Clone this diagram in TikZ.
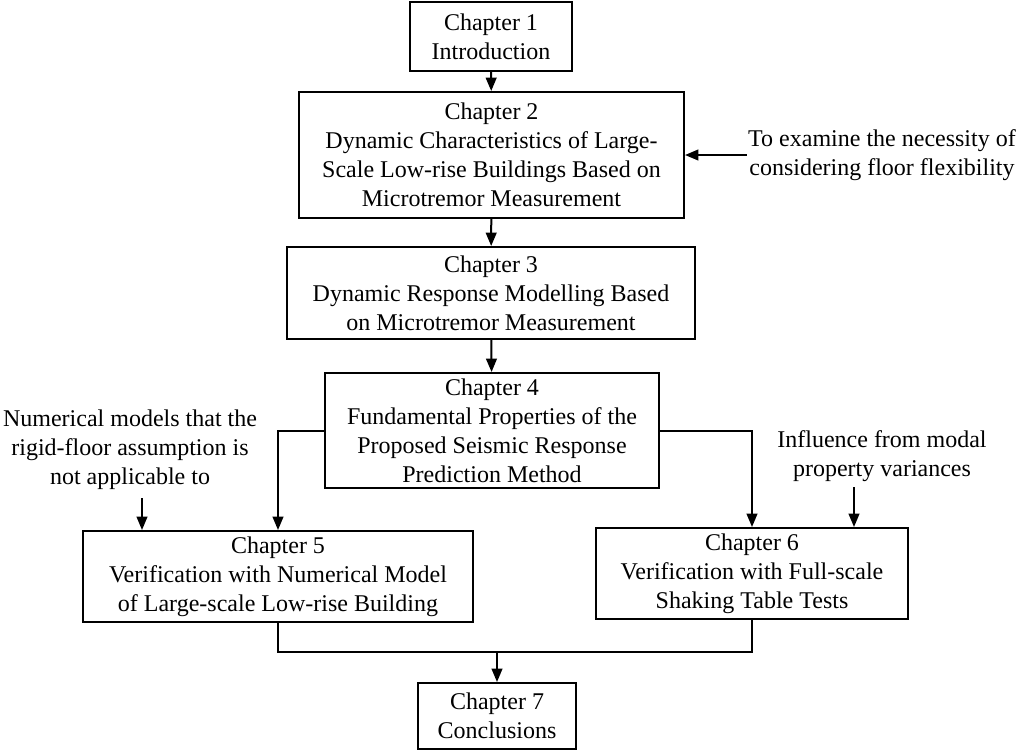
\documentclass[tikz,border=0pt]{standalone}
\usepackage{fontspec}
\setmainfont{Liberation Serif}
\usetikzlibrary{arrows.meta}

\tikzset{
  chapbox/.style={draw, line width=1.5pt, align=center, inner sep=0.75pt, font=\fontsize{18}{21.75}\selectfont},
  sidenote/.style={align=center, inner sep=0.75pt, font=\fontsize{18}{21.75}\selectfont},
  arr/.style={line width=1.5pt, -{Triangle[length=10pt,width=8pt]}},
  link/.style={line width=1.5pt}
}

\begin{document}
\begin{tikzpicture}[x=0.75pt,y=0.75pt,yscale=-1,xscale=1]
\useasboundingbox (0,0) rectangle (1022,751);

% Chapter boxes
\node [chapbox, minimum width=121.5pt, minimum height=51.75pt] (ch1) at (491,36.5) {Chapter 1\\Introduction};
\node [chapbox, minimum width=288.75pt, minimum height=94.5pt] (ch2) at (491.5,155) {Chapter 2\\Dynamic Characteristics of Large-\\Scale Low-rise Buildings Based on\\Microtremor Measurement};
\node [chapbox, minimum width=306pt, minimum height=69pt] (ch3) at (491,293) {Chapter 3\\Dynamic Response Modelling Based\\on Microtremor Measurement};
\node [chapbox, minimum width=250.5pt, minimum height=86.25pt] (ch4) at (492,430.5) {Chapter 4\\Fundamental Properties of the\\Proposed Seismic Response\\Prediction Method};
\node [chapbox, minimum width=292.5pt, minimum height=68.25pt] (ch5) at (278,576.5) {Chapter 5\\Verification with Numerical Model\\of Large-scale Low-rise Building};
\node [chapbox, minimum width=234pt, minimum height=68.25pt] (ch6) at (752,573.5) {Chapter 6\\Verification with Full-scale\\Shaking Table Tests};
\node [chapbox, minimum width=118.5pt, minimum height=49.5pt] (ch7) at (497,716) {Chapter 7\\Conclusions};

% Text Node
\node [sidenote] (note2) at (882,155) {To examine the necessity of\\considering floor flexibility};
% Text Node
\node [sidenote] (note5) at (130,450) {Numerical models that the\\rigid-floor assumption is\\not applicable to};
% Text Node
\node [sidenote] (note6) at (882,456) {Influence from modal\\property variances};

\coordinate (in5) at (142,498);
\coordinate (in6) at (854,487);
\coordinate (join) at (497,652);

%Straight Lines
\draw [arr] (ch1) -- (ch2);
\draw [arr] (ch2) -- (ch3);
\draw [arr] (ch3) -- (ch4);
\draw [arr] (note2.west |- ch2.east) -- (ch2.east);
\draw [arr] (ch4.west) -| (ch5.north);
\draw [arr] (ch4.east) -| (ch6.north);
\draw [arr] (in5) -- (in5 |- ch5.north);
\draw [arr] (in6) -- (in6 |- ch6.north);
\draw [link] (ch5.south) |- (join) -| (ch6.south);
\draw [arr] (join) -- (ch7.north);

\end{tikzpicture}
\end{document}
